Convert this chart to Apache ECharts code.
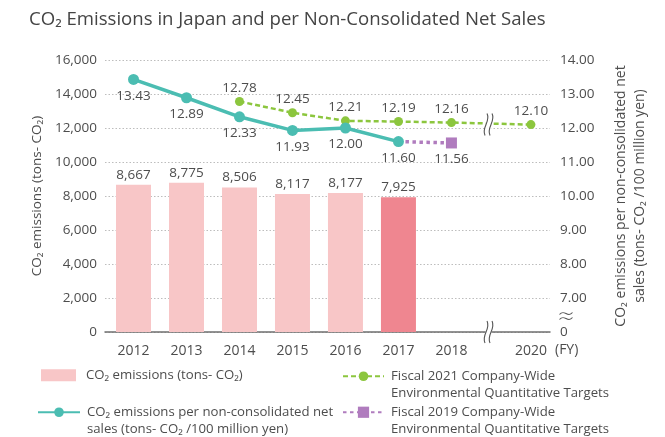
<!DOCTYPE html>
<html><head><meta charset="utf-8">
<script src="https://cdn.jsdelivr.net/npm/echarts@6/dist/echarts.min.js"></script>
<style>html,body{margin:0;padding:0;background:#fff}#c{width:665px;height:437px}</style>
</head><body><div id="c"></div>
<script>
// ---- data ----
const years = [2012, 2013, 2014, 2015, 2016, 2017, 2018, 2020];
const barYears = [2012, 2013, 2014, 2015, 2016, 2017];
const emissions = [8667, 8775, 8506, 8117, 8177, 7925];
const intensityYears = [2012, 2013, 2014, 2015, 2016, 2017];
const intensity = [13.43, 12.89, 12.33, 11.93, 12.00, 11.60];
const target2021Years = [2014, 2015, 2016, 2017, 2018, 2020];
const target2021 = [12.78, 12.45, 12.21, 12.19, 12.16, 12.10];
const target2019Years = [2017, 2018];
const target2019 = [11.60, 11.56];
const leftMin = 0, leftMax = 16000, leftStep = 2000;
const rightMin = 6, rightMax = 14, rightStep = 1;   // bottom tick shown as "0" (broken axis)

const nameBar = 'CO₂ emissions (tons- CO₂)';
const nameLine = 'CO₂ emissions per non-consolidated net\nsales (tons- CO₂ /100 million yen)';
const name2021 = 'Fiscal 2021 Company-Wide\nEnvironmental Quantitative Targets';
const name2019 = 'Fiscal 2019 Company-Wide\nEnvironmental Quantitative Targets';

// broken year axis: 2019 is cut out, leaving half a slot
function pos(y) { return y <= 2018 ? y - 2012 : y - 2012 - 0.5; }
const tickPos = years.map(pos);

const FONT = 'Open Sans';
const TXT = '#4d4d4d';
const C_BAR = '#f8c6c7', C_BAR_HL = '#ef8690', C_TEAL = '#4bbdb2', C_GREEN = '#8cc63e', C_PURPLE = '#b07cbe';

const chart = echarts.init(document.getElementById('c'), null, {renderer: 'canvas'});

function legendText(padLeft) {
  return {fontFamily: FONT, fontSize: 13.2, color: TXT, lineHeight: 16.5,
    rich: {a: {fontFamily: FONT, fontSize: 13.2, color: TXT, lineHeight: 16.5, padding: [0, 0, 0, padLeft]}}};
}
// first text line aligned with the icon: an empty line above keeps line 1 at the block's centre
const fmt1 = n => '{a|' + n + '}';
const fmt2 = n => '\n' + n.split('\n').map(s => '{a|' + s + '}').join('\n');

chart.setOption({
  animation: false,
  textStyle: {fontFamily: FONT, color: TXT},
  title: {
    text: 'CO₂ Emissions in Japan and per Non-Consolidated Net Sales',
    left: 29, top: 10, padding: 0,
    textStyle: {fontFamily: FONT, fontSize: 18.6, fontWeight: 'normal', color: '#444'}
  },
  grid: {left: 105, right: 115, top: 60, bottom: 105},
  xAxis: {
    type: 'value', min: -0.538, max: 7.86,
    axisLine: {lineStyle: {color: '#6f6f6f', width: 1.5}},
    axisTick: {show: false},
    splitLine: {show: false},
    axisLabel: {
      customValues: tickPos, margin: 12, fontSize: 14, color: TXT, fontFamily: FONT,
      formatter: function (v) { const i = tickPos.indexOf(v); return i >= 0 ? String(years[i]) : ''; }
    }
  },
  yAxis: [{
    type: 'value', min: leftMin, max: leftMax, interval: leftStep,
    name: 'CO₂ emissions (tons- CO₂)', nameLocation: 'middle', nameRotate: 90, nameGap: 59,
    nameTextStyle: {fontSize: 13.5, color: TXT, fontFamily: FONT},
    axisLine: {show: false}, axisTick: {show: false},
    axisLabel: {margin: 8, fontSize: 13.5, color: TXT, fontFamily: FONT,
      formatter: function (v) { return v.toLocaleString('en-US'); }},
    splitLine: {lineStyle: {color: '#bdbdbd', type: [1.5, 2], width: 1}}
  }, {
    type: 'value', min: rightMin, max: rightMax, interval: rightStep, position: 'right',
    name: 'CO₂ emissions per non-consolidated net\nsales (tons- CO₂ /100 million yen)',
    nameLocation: 'middle', nameRotate: 90, nameGap: 62,
    nameTextStyle: {fontSize: 14, color: TXT, fontFamily: FONT, lineHeight: 19},
    axisLine: {show: false}, axisTick: {show: false},
    axisLabel: {margin: 10, fontSize: 13.5, color: TXT, fontFamily: FONT,
      formatter: function (v) { return v === rightMin ? '0' : v.toFixed(2); }},
    splitLine: {show: false}
  }],
  legend: [
    {data: [nameBar], left: 41, top: 367, padding: 0, itemWidth: 35, itemHeight: 12, itemGap: 0,
      icon: 'rect', textStyle: legendText(5), formatter: fmt1},
    {data: [nameLine], left: 37, top: 387.5, padding: 0, itemWidth: 42, itemHeight: 12, itemGap: 0,
      textStyle: legendText(2), formatter: fmt2},
    {data: [name2021], left: 342, top: 351.5, padding: 0, itemWidth: 41, itemHeight: 12, itemGap: 0,
      textStyle: legendText(2), formatter: fmt2},
    {data: [name2019], left: 342, top: 387.5, padding: 0, itemWidth: 41, itemHeight: 14, itemGap: 0,
      textStyle: legendText(2), formatter: fmt2}
  ],
  series: [{
    name: nameBar, type: 'bar', yAxisIndex: 0, barWidth: 35,
    data: barYears.map((y, i) => ({
      value: [pos(y), emissions[i]],
      itemStyle: {color: y === 2017 ? C_BAR_HL : C_BAR}
    })),
    itemStyle: {color: C_BAR},
    label: {show: true, position: 'top', distance: 3, fontSize: 13.5, color: TXT, fontFamily: FONT,
      formatter: p => p.value[1].toLocaleString('en-US')}
  }, {
    name: name2019, type: 'line', yAxisIndex: 1, z: 3,
    symbol: 'rect', symbolSize: 11,
    itemStyle: {color: C_PURPLE},
    lineStyle: {color: C_PURPLE, width: 3.5, type: [3.5, 3.5]},
    data: target2019Years.map((y, i) => i === 0
      ? {value: [pos(y), target2019[i]], symbol: 'none', label: {show: false}}
      : {value: [pos(y), target2019[i]]}),
    label: {show: true, position: 'bottom', distance: 4, fontSize: 13.5, color: TXT, fontFamily: FONT,
      formatter: p => p.value[1].toFixed(2)}
  }, {
    name: name2021, type: 'line', yAxisIndex: 1, z: 3,
    symbol: 'circle', symbolSize: 9,
    itemStyle: {color: C_GREEN},
    lineStyle: {color: C_GREEN, width: 2.5, type: [5, 3]},
    data: target2021Years.map((y, i) => [pos(y), target2021[i]]),
    label: {show: true, position: 'top', distance: 2, fontSize: 13.5, color: TXT, fontFamily: FONT,
      formatter: p => p.value[1].toFixed(2)}
  }, {
    name: nameLine, type: 'line', yAxisIndex: 1, z: 4,
    symbol: 'circle', symbolSize: 11,
    itemStyle: {color: C_TEAL},
    lineStyle: {color: C_TEAL, width: 3.5},
    data: intensityYears.map((y, i) => [pos(y), intensity[i]]),
    label: {show: true, position: 'bottom', distance: 4, fontSize: 13.5, color: TXT, fontFamily: FONT,
      formatter: p => p.value[1].toFixed(2)}
  }]
});

// ---- break marks (decoration) ----
function vBreak(cx, cy, h) {
  const els = [{type: 'rect', shape: {x: cx - 3, y: cy - h * 0.3, width: 6, height: h * 0.6},
    style: {fill: '#fff'}, z: 100}];
  [-2.5, 2.5].forEach(dx => {
    const x = cx + dx;
    els.push({type: 'bezierCurve', z: 101,
      shape: {x1: x + 1, y1: cy - h / 2, x2: x - 1, y2: cy + h / 2,
        cpx1: x + 5, cpy1: cy - h / 8, cpx2: x - 5, cpy2: cy + h / 8},
      style: {stroke: '#555', lineWidth: 1.1, fill: null}});
  });
  return els;
}
function hBreak(cx, cy, w) {
  const els = [];
  [-2.5, 2.5].forEach(dy => {
    const y = cy + dy;
    els.push({type: 'bezierCurve', z: 101,
      shape: {x1: cx - w / 2, y1: y + 1, x2: cx + w / 2, y2: y - 1,
        cpx1: cx - w / 8, cpy1: y - 5, cpx2: cx + w / 8, cpy2: y + 5},
      style: {stroke: '#555', lineWidth: 1.1, fill: null}});
  });
  return els;
}
const breakX = 6.7;
const pAxis = chart.convertToPixel({xAxisIndex: 0, yAxisIndex: 0}, [breakX, 0]);
const pLine = chart.convertToPixel({xAxisIndex: 0, yAxisIndex: 1}, [breakX, 12.135]);
const pRight = chart.convertToPixel({xAxisIndex: 0, yAxisIndex: 1}, [7.86, 6.47]);
chart.setOption({
  graphic: [].concat(
    vBreak(pAxis[0], pAxis[1], 22),
    vBreak(pLine[0], pLine[1] + 1, 22),
    hBreak(pRight[0] + 16, pRight[1], 13),
    [{type: 'text', left: 555, top: 343, z: 100,
      style: {text: '(FY)', fontFamily: FONT, fontSize: 14, fill: TXT}}]
  )
});
</script>
</body></html>
